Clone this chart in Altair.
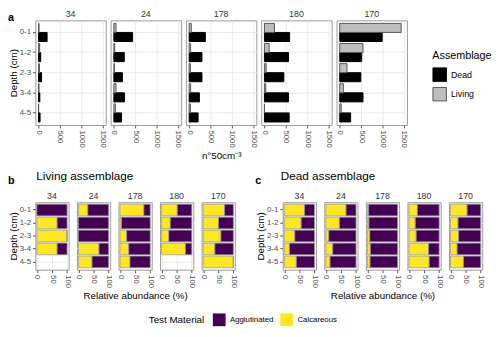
import altair as alt
import pandas as pd

FONT = "Liberation Sans"

cores = ["34", "24", "178", "180", "170"]
depths = ["0-1", "1-2", "2-3", "3-4", "4-5"]

# Panel a: abundance (n per 50 cm3)
dead_34 = [200, 50, 70, 30, 35]
dead_24 = [440, 245, 200, 250, 180]
dead_178 = [380, 300, 300, 240, 210]
dead_180 = [590, 565, 455, 565, 580]
dead_170 = [995, 515, 495, 545, 255]

living_34 = [10, 25, 20, 10, 0]
living_24 = [50, 20, 15, 50, 35]
living_178 = [50, 35, 30, 35, 30]
living_180 = [235, 110, 40, 30, 0]
living_170 = [1440, 545, 170, 85, 35]

# Panels b / c: % calcareous (rest agglutinated); None = no specimens
calc_living_34 = [0, 67, 100, 67, None]
calc_living_24 = [31, 0, 0, 68, 45]
calc_living_178 = [79, 5, 22, 29, 33]
calc_living_180 = [52, 29, 24, 79, None]
calc_living_170 = [71, 51, 59, 39, 100]

calc_dead_34 = [67, 56, 35, 17, 40]
calc_dead_24 = [67, 45, 10, 23, 14]
calc_dead_178 = [4, 5, 8, 10, 9]
calc_dead_180 = [28, 21, 24, 65, 67]
calc_dead_170 = [55, 25, 27, 22, 43]

dead = dict(zip(cores, [dead_34, dead_24, dead_178, dead_180, dead_170]))
living = dict(zip(cores, [living_34, living_24, living_178, living_180, living_170]))
calc_living = dict(zip(cores, [calc_living_34, calc_living_24, calc_living_178, calc_living_180, calc_living_170]))
calc_dead = dict(zip(cores, [calc_dead_34, calc_dead_24, calc_dead_178, calc_dead_180, calc_dead_170]))

assemblages = ["Dead", "Living"]
materials = ["Agglutinated", "Calcareous"]

LABEL_COLOR = "#4d4d4d"


def title_for(core):
    return alt.Title(core, fontSize=9, fontWeight="normal",
                     color="#333333", offset=1, font=FONT)


def y_axis(first):
    if first:
        return alt.Axis(title="Depth (cm)", bandPosition=0.5, grid=True, titlePadding=1)
    return alt.Axis(title=None, labels=False, ticks=False, bandPosition=0.5, grid=True)


def a_chart(i, core):
    rows = []
    for d, dv, lv in zip(depths, dead[core], living[core]):
        rows.append({"depth": d, "Assemblage": "Dead", "n": dv})
        rows.append({"depth": d, "Assemblage": "Living", "n": lv})
    df = pd.DataFrame(rows)
    xtitle = "n°50cm⁻³" if i == 2 else None
    leg = alt.Legend(title="Assemblage", orient="none", legendX=406, legendY=31,
                     symbolType="square", symbolSize=190, symbolStrokeWidth=1,
                     titleFontSize=11, titleFontWeight="normal", titleColor="black",
                     labelFontSize=9, labelColor="black", titlePadding=6, rowPadding=1)
    bars = alt.Chart(df).mark_bar(strokeWidth=1).encode(
        x=alt.X("n:Q", scale=alt.Scale(domain=[-75, 1575], nice=False, zero=False),
                axis=alt.Axis(values=[0, 500, 1000, 1500], format="d", labelAngle=90,
                              title=xtitle, titleFontSize=10, titlePadding=3)),
        y=alt.Y("depth:N", scale=alt.Scale(domain=depths, paddingInner=0.1, paddingOuter=0.15),
                axis=y_axis(i == 0)),
        yOffset=alt.YOffset("Assemblage:N", sort=["Living", "Dead"],
                            scale=alt.Scale(domain=["Living", "Dead"], paddingInner=0, paddingOuter=0)),
        fill=alt.Fill("Assemblage:N", scale=alt.Scale(domain=assemblages, range=["#000000", "#bebebe"]),
                      legend=leg),
        stroke=alt.Stroke("Assemblage:N", scale=alt.Scale(domain=assemblages, range=["#000000", "#555555"]),
                          legend=leg),
    )
    return bars.properties(width=72, height=107, title=title_for(core))


def rel_chart(i, core, calc):
    rows = []
    for d, c in zip(depths, calc[core]):
        if c is None:
            continue
        rows.append({"depth": d, "material": "Calcareous", "pct": c, "ord": 0})
        rows.append({"depth": d, "material": "Agglutinated", "pct": 100 - c, "ord": 1})
    df = pd.DataFrame(rows)
    xtitle = "Relative abundance (%)" if i == 2 else None
    leg = alt.Legend(title="Test Material", orient="none", legendX=116, legendY=299,
                     direction="horizontal", titleOrient="left", symbolType="square",
                     symbolSize=170, symbolStrokeWidth=0, titleFontSize=10,
                     titleFontWeight="normal", titleColor="black", labelFontSize=8,
                     labelColor="black", columnPadding=6, titlePadding=8)
    bars = alt.Chart(df).mark_bar(stroke="#9a9a9a", strokeWidth=0.8).encode(
        x=alt.X("pct:Q", stack="zero", scale=alt.Scale(domain=[-5, 105], nice=False, zero=False),
                axis=alt.Axis(values=[0, 50, 100], format="d", labelAngle=90, title=xtitle,
                              titleFontSize=10, titlePadding=3)),
        y=alt.Y("depth:N", scale=alt.Scale(domain=depths, paddingInner=0.1, paddingOuter=0.15),
                axis=y_axis(i == 0)),
        color=alt.Color("material:N", scale=alt.Scale(domain=materials, range=["#440154", "#FDE725"]),
                        legend=leg),
        order=alt.Order("ord:Q"),
    )
    return bars.properties(width=34, height=69, title=title_for(core))


def heading(text, dx):
    return alt.Title(text, anchor="start", fontSize=12, fontWeight="normal",
                     color="black", dx=dx, offset=9, font=FONT)


def letter(text, dy):
    return alt.Title(text, anchor="start", fontSize=11, fontWeight="bold",
                     color="black", dy=dy, offset=0, font=FONT)


row1 = alt.hconcat(*[a_chart(i, c) for i, c in enumerate(cores)], spacing=5,
                   bounds="flush", title=letter("a", 13))
b_group = alt.hconcat(*[rel_chart(i, c, calc_living) for i, c in enumerate(cores)],
                      spacing=8.5, bounds="flush", title=heading("Living assemblage", 29))
c_group = alt.hconcat(*[rel_chart(i, c, calc_dead) for i, c in enumerate(cores)],
                      spacing=8.5, bounds="flush", title=heading("Dead assemblage", 26))
b_wrap = alt.hconcat(b_group, title=letter("b", 16))
c_wrap = alt.hconcat(c_group, title=letter("c", 16))
row2 = alt.hconcat(b_wrap, c_wrap, spacing=17)

chart = alt.vconcat(row1, row2, spacing=9).properties(
    padding={"left": -1, "top": -2, "right": 0, "bottom": 0}
).configure(font=FONT).configure_view(
    stroke="#999999", strokeWidth=1
).configure_axis(
    labelFont=FONT, labelFontSize=8, labelColor=LABEL_COLOR,
    tickColor="#555555", tickSize=3, domain=False,
    gridColor="#ebebeb", gridWidth=1,
    titleFont=FONT, titleFontWeight="normal", titleFontSize=10, titleColor="black",
    labelPadding=2
).configure_legend(labelFont=FONT, titleFont=FONT)

chart.save("out.html", embed_options={"renderer": "svg", "actions": False})
